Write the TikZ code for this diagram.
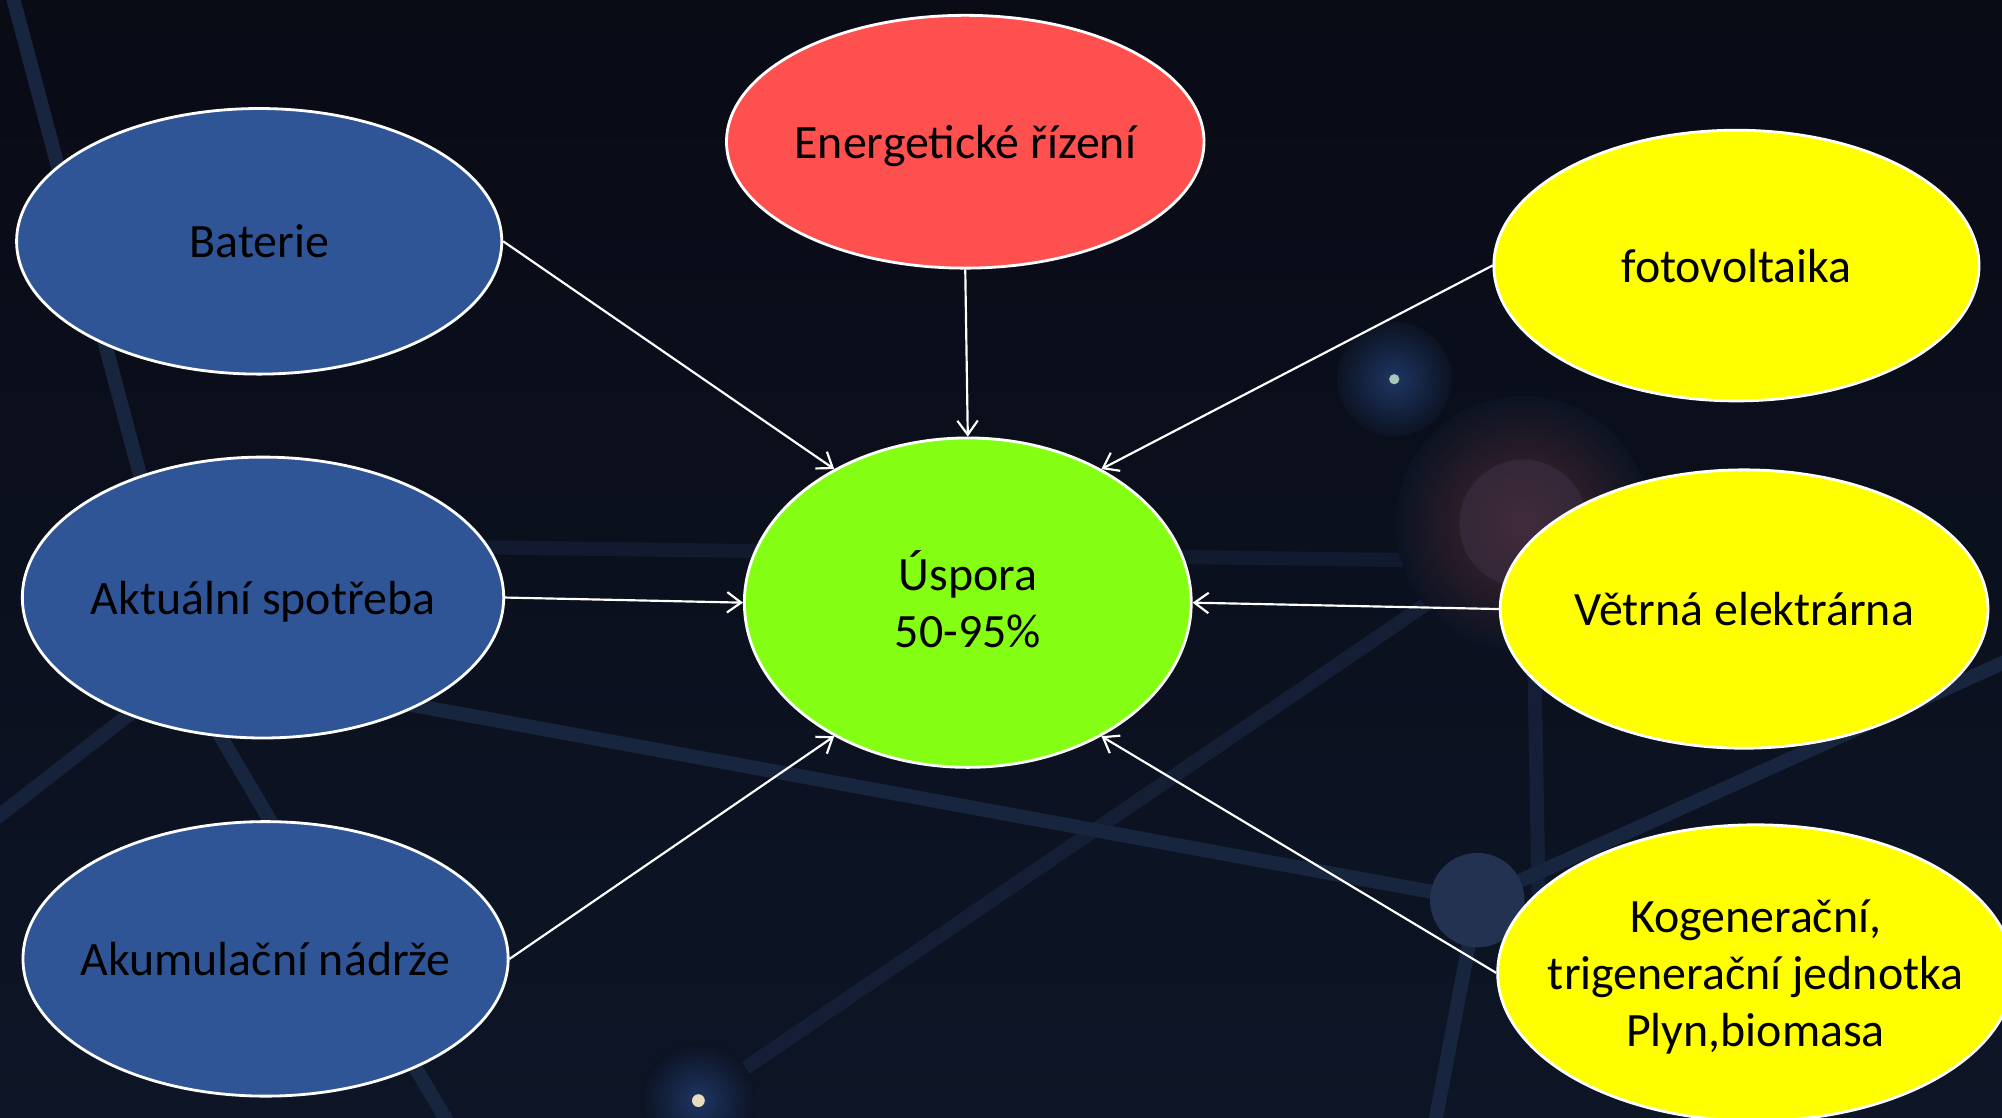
\documentclass[tikz,border=0pt]{standalone}
\usepackage{fontspec}
\setmainfont{Carlito}
\usetikzlibrary{arrows.meta,shapes.geometric}
\definecolor{bgtop}{HTML}{090B15}
\definecolor{bgbot}{HTML}{0D1526}
\definecolor{bgmid}{HTML}{0C1322}
\definecolor{bgline}{HTML}{18253F}
\definecolor{bgnode}{HTML}{223250}
\definecolor{blueell}{HTML}{2F5597}
\definecolor{redell}{HTML}{FF5050}
\definecolor{greenell}{HTML}{84FF14}
\definecolor{yellowell}{HTML}{FFFF00}
\definecolor{glowblue}{HTML}{1E3563}
\definecolor{glowred}{HTML}{4A2630}
\definecolor{dotteal}{HTML}{A8C8B8}
\definecolor{dotwarm}{HTML}{E8DCC0}
\definecolor{glowcore}{HTML}{3A2E42}
\newcommand{\zw}[1]{\makebox[0pt]{\raisebox{0pt}[\dimexpr\height+8pt\relax][\depth]{\begin{tabular}{@{}c@{}}#1\end{tabular}}}}
\tikzset{
  ell/.style={ellipse, draw=white, line width=2.2pt, inner sep=0pt, text=black},
  arr/.style={draw=white, line width=1.7pt, -{Straight Barb[length=11pt,width=16pt,line width=1.7pt]}},
  bgl/.style={draw=bgline, line width=11pt},
}
\begin{document}
\begin{tikzpicture}[x=1pt,y=-1pt,font=\fontsize{37.5}{45}\selectfont]
\useasboundingbox (0,0) rectangle (1568,875.6);
\shade[top color=bgtop, bottom color=bgbot] (0,0) rectangle (1568,875.6);
% background network
\draw[bgl, opacity=0.5] (330,428) -- (1195,440);
\draw[bgl] (8,-10) -- (157,550) -- (363,900);
\draw[bgl, opacity=0.85] (157,516) -- (-20,654);
\draw[bgl] (300,548) -- (1157,705);
\draw[bgl, opacity=0.7] (1195,420) -- (520,880);
\draw[bgl] (1157,705) -- (1600,505);
\draw[bgl] (1157,705) -- (1120,900);
\draw[bgl, opacity=0.75] (1200,420) -- (1205,700);
\node[circle, fill=bgnode, minimum size=74pt, inner sep=0pt] (hub) at (1157,705) {};
% glows
\shade[inner color=glowblue, outer color=bgmid] (1092,297) circle (45);
\fill[dotteal] (1092,297) circle (4);
\shade[inner color=glowred, outer color=bgmid] (1193,410) circle (100);
\fill[glowcore, opacity=0.6] (1193,410) circle (50);
\shade[inner color=glowblue, outer color=bgmid] (547,862) circle (45);
\fill[dotwarm] (547,862) circle (5);
% main nodes
\node[ell, fill=redell, minimum width=374pt, minimum height=198pt] (ene) at (756,111) {\zw{Energetické řízení}};
\node[ell, fill=blueell, minimum width=380pt, minimum height=208pt] (bat) at (203,189) {\zw{Baterie}};
\node[ell, fill=yellowell, minimum width=380pt, minimum height=212pt] (fot) at (1360,208) {\zw{fotovoltaika}};
\node[ell, fill=greenell, minimum width=350pt, minimum height=258pt] (usp) at (758,472) {\zw{Úspora\\50-95\%}};
\node[ell, fill=blueell, minimum width=377pt, minimum height=220pt] (akt) at (206,468) {\zw{Aktuální spotřeba}};
\node[ell, fill=yellowell, minimum width=382pt, minimum height=218pt] (vet) at (1366,477) {\zw{Větrná elektrárna}};
\node[ell, fill=blueell, minimum width=380pt, minimum height=215pt] (aku) at (208,751) {\zw{Akumulační nádrže}};
\node[ell, fill=yellowell, minimum width=404pt, minimum height=232pt] (kog) at (1375,762) {\zw{Kogenerační,\\trigenerační jednotka\\Plyn,biomasa}};
% connectors
\draw[arr] (bat.east) -- (usp.135);
\draw[arr] (ene.south) -- (usp.north);
\draw[arr] (fot.west) -- (usp.45);
\draw[arr] (akt.east) -- (usp.west);
\draw[arr] (vet.west) -- (usp.east);
\draw[arr] (aku.east) -- (usp.225);
\draw[arr] (kog.west) -- (usp.315);
\end{tikzpicture}
\end{document}
